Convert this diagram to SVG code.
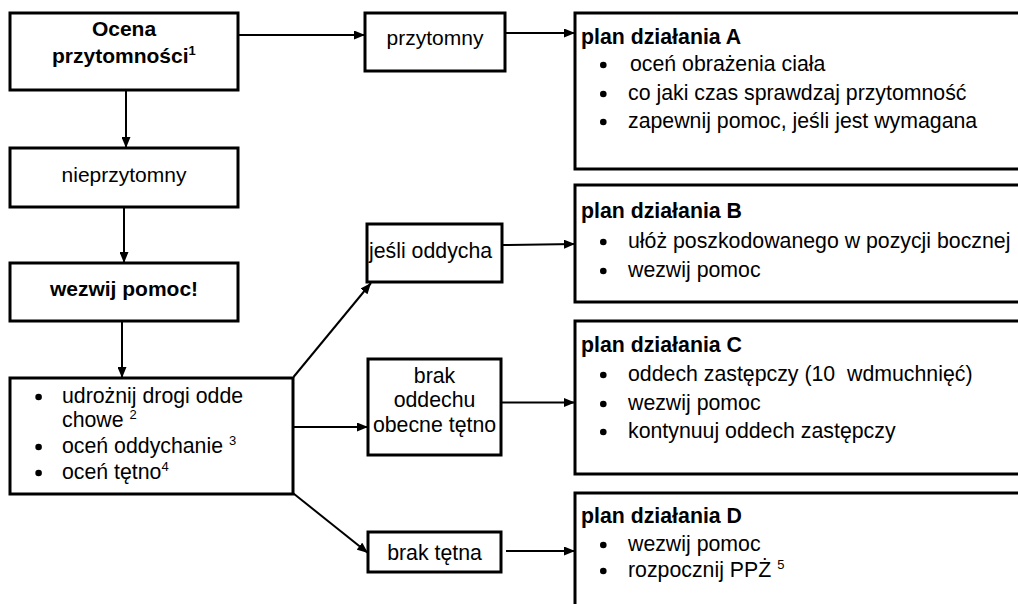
<svg xmlns="http://www.w3.org/2000/svg" width="1018" height="604" viewBox="0 0 1018 604">
<style>
text{font-family:"Liberation Sans",Arial,sans-serif;fill:#000;white-space:pre}
.box{fill:#fff;stroke:#000;stroke-width:3}
.t{font-size:21px}
.b{font-size:21px;font-weight:bold}
.p{font-size:21.3px}
.ph{font-size:21.3px;font-weight:bold}
.c{text-anchor:middle}
.sup{font-size:13px}
.dot{fill:#000}
.con line{stroke:#000;stroke-width:2;fill:none;marker-end:url(#ah)}
</style>
<defs>
<marker id="ah" markerUnits="userSpaceOnUse" markerWidth="11" markerHeight="9" refX="11" refY="4.5" orient="auto">
<path d="M0,0 L11,4.5 L0,9 z" fill="#000"/>
</marker>
</defs>
<rect width="1018" height="604" fill="#fff"/>

<g id="ocena">
<rect class="box" x="10" y="13" width="228" height="77"/>
<text class="b c" x="124" y="36">Ocena</text>
<text class="b" x="52" y="63">przytomności<tspan class="sup" dy="-8">1</tspan></text>
</g>

<g id="przytomny">
<rect class="box" x="365" y="13" width="140" height="58"/>
<text class="t c" x="435" y="45">przytomny</text>
</g>

<g id="nieprzytomny">
<rect class="box" x="10" y="148" width="228" height="59"/>
<text class="t c" x="124" y="182">nieprzytomny</text>
</g>

<g id="wezwij">
<rect class="box" x="10" y="263" width="228" height="58"/>
<text class="b c" x="124" y="296">wezwij pomoc!</text>
</g>

<g id="lista">
<rect class="box" x="10" y="378" width="283" height="116"/>
<circle class="dot" cx="38.6" cy="397" r="3.3"/>
<text class="p" x="62" y="403">udrożnij drogi odde</text>
<text class="p" x="62" y="427">chowe <tspan class="sup" dy="-8">2</tspan></text>
<circle class="dot" cx="38.6" cy="447" r="3.3"/>
<text class="p" x="62" y="453">oceń oddychanie <tspan class="sup" dy="-8">3</tspan></text>
<circle class="dot" cx="38.6" cy="473" r="3.3"/>
<text class="p" x="62" y="479">oceń tętno<tspan class="sup" dy="-8">4</tspan></text>
</g>

<g id="oddycha">
<rect class="box" x="367" y="224" width="135" height="58"/>
<text class="p" x="369" y="258">jeśli oddycha</text>
</g>

<g id="brak-oddechu">
<rect class="box" x="368" y="359" width="133" height="96"/>
<text class="p c" x="434.5" y="383">brak</text>
<text class="p c" x="434.5" y="407">oddechu</text>
<text class="p c" x="434.5" y="432">obecne tętno</text>
</g>

<g id="brak-tetna">
<rect class="box" x="368" y="532" width="133" height="40"/>
<text class="p c" x="434.5" y="560">brak tętna</text>
</g>

<g id="planA">
<rect class="box" x="575" y="13" width="470" height="156"/>
<text class="ph" x="581" y="44">plan działania A</text>
<circle class="dot" cx="603.3" cy="65" r="3.3"/>
<text class="p" x="630" y="71">oceń obrażenia ciała</text>
<circle class="dot" cx="603.3" cy="94" r="3.3"/>
<text class="p" x="628" y="100">co jaki czas sprawdzaj przytomność</text>
<circle class="dot" cx="603.3" cy="122" r="3.3"/>
<text class="p" x="628" y="128">zapewnij pomoc, jeśli jest wymagana</text>
</g>

<g id="planB">
<rect class="box" x="575" y="185" width="470" height="117"/>
<text class="ph" x="581" y="218">plan działania B</text>
<circle class="dot" cx="603.3" cy="242" r="3.3"/>
<text class="p" x="628" y="248">ułóż poszkodowanego w pozycji bocznej</text>
<circle class="dot" cx="603.3" cy="271" r="3.3"/>
<text class="p" x="628" y="277">wezwij pomoc</text>
</g>

<g id="planC">
<rect class="box" x="575" y="321" width="470" height="153"/>
<text class="ph" x="581" y="352">plan działania C</text>
<circle class="dot" cx="603.3" cy="375" r="3.3"/>
<text class="p" x="628" y="381">oddech zastępczy (10  wdmuchnięć)</text>
<circle class="dot" cx="603.3" cy="404" r="3.3"/>
<text class="p" x="628" y="410">wezwij pomoc</text>
<circle class="dot" cx="603.3" cy="432" r="3.3"/>
<text class="p" x="628" y="438">kontynuuj oddech zastępczy</text>
</g>

<g id="planD">
<rect class="box" x="575" y="493" width="470" height="140"/>
<text class="ph" x="581" y="523">plan działania D</text>
<circle class="dot" cx="603.3" cy="545" r="3.3"/>
<text class="p" x="628" y="551">wezwij pomoc</text>
<circle class="dot" cx="603.3" cy="571" r="3.3"/>
<text class="p" x="628" y="577">rozpocznij PPŻ <tspan class="sup" dy="-8">5</tspan></text>
</g>

<g id="connectors" class="con">
<line x1="238" y1="35" x2="365" y2="35"/>
<line x1="505" y1="33" x2="575" y2="33"/>
<line x1="126" y1="90" x2="126" y2="148"/>
<line x1="124" y1="207" x2="124" y2="263"/>
<line x1="122" y1="321" x2="122" y2="378"/>
<line x1="293.5" y1="377" x2="371" y2="283"/>
<line x1="292" y1="427" x2="368" y2="427"/>
<line x1="293.5" y1="493.5" x2="368" y2="553"/>
<line x1="502" y1="245" x2="575" y2="244"/>
<line x1="501" y1="402.5" x2="575" y2="402.5"/>
<line x1="506" y1="551" x2="575" y2="551"/>
</g>
</svg>
